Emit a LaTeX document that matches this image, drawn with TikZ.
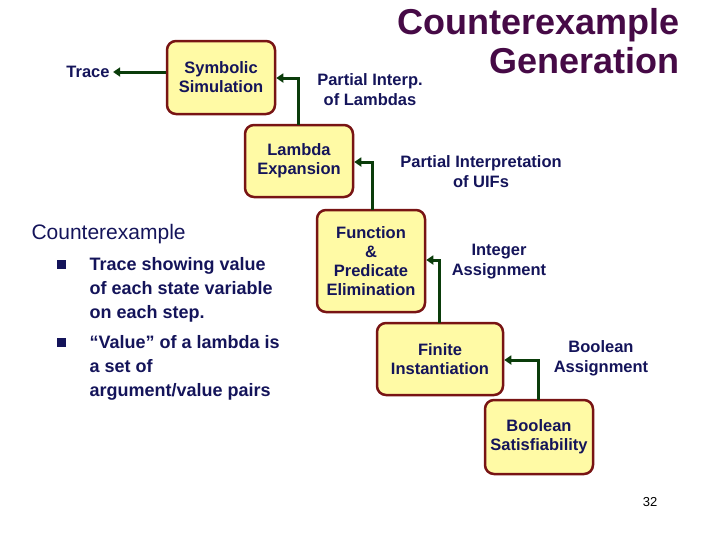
\documentclass[tikz,border=0pt]{standalone}
\usepackage{fontspec}
\setmainfont{Liberation Sans}
\usetikzlibrary{arrows.meta}
\definecolor{navy}{RGB}{20,20,90}
\definecolor{boxfill}{RGB}{255,250,165}
\definecolor{boxdraw}{RGB}{120,20,20}
\definecolor{arr}{RGB}{10,60,10}
\definecolor{ttl}{RGB}{70,10,70}
\begin{document}
\begin{tikzpicture}[x=1pt,y=-1pt,
 box/.style={draw=boxdraw,line width=2.5pt,fill=boxfill,rounded corners=9pt,font=\fontsize{16.5}{19}\selectfont\bfseries,text=navy,align=center,inner sep=0pt},
 lab/.style={font=\fontsize{16.5}{20}\selectfont\bfseries,text=navy,align=center},
 con/.style={draw=arr,line width=3pt,-{Triangle[length=7pt,width=9pt]}}]
\useasboundingbox (0,0) rectangle (719,539);
\node[box,minimum width=108pt,minimum height=73pt] (sym) at (221,77.5) {Symbolic\\Simulation};
\node[box,minimum width=108pt,minimum height=72pt] (lam) at (299,161) {Lambda\\Expansion};
\node[box,minimum width=108pt,minimum height=102pt] (fun) at (371,261) {Function\\\&\\Predicate\\Elimination};
\node[box,minimum width=126pt,minimum height=72pt] (fin) at (440,359) {Finite\\Instantiation};
\node[box,minimum width=108pt,minimum height=74pt] (sat) at (539,437) {Boolean\\Satisfiability};
\node[lab] (trace) at (88,72) {Trace};
\node[lab] (pil) at (370,90) {Partial Interp.\\of Lambdas};
\node[lab] (piu) at (481,172) {Partial Interpretation\\of UIFs};
\node[lab] (ia) at (499,262) {Integer\\Assignment};
\node[lab] (ba) at (601,358) {Boolean\\Assignment};
\coordinate (c1) at (298,78);
\coordinate (c2) at (372,162);
\coordinate (c3) at (439,260);
\coordinate (c4) at (538,360);
\draw[con] (sym.west |- trace) -- (trace.east);
\draw[con] (298,125) -- (c1) -- (c1 -| sym.east);
\draw[con] (372,210) -- (c2) -- (c2 -| lam.east);
\draw[con] (439,323) -- (c3) -- (c3 -| fun.east);
\draw[con] (538,400) -- (c4) -- (c4 -| fin.east);
\node[font=\fontsize{36}{39}\selectfont\bfseries,text=ttl,align=right,anchor=north east] (title) at (683,5) {Counterexample\\Generation};
\node[font=\fontsize{21}{22}\selectfont,text=navy,anchor=west] (ce) at (28,234) {Counterexample};
\node[font=\fontsize{18}{24}\selectfont\bfseries,text=navy,anchor=north west,align=left] (b1) at (86,254) {Trace showing value\\of each state variable\\on each step.};
\node[font=\fontsize{18}{24}\selectfont\bfseries,text=navy,anchor=north west,align=left] (b2) at (86,332) {“Value” of a lambda is\\a set of\\argument/value pairs};
\fill[navy] (57,260) rectangle (66,269);
\fill[navy] (57,338) rectangle (66,347);
\node[font=\fontsize{13}{14}\selectfont,anchor=center] (pg) at (650,502) {32};
\end{tikzpicture}
\end{document}
